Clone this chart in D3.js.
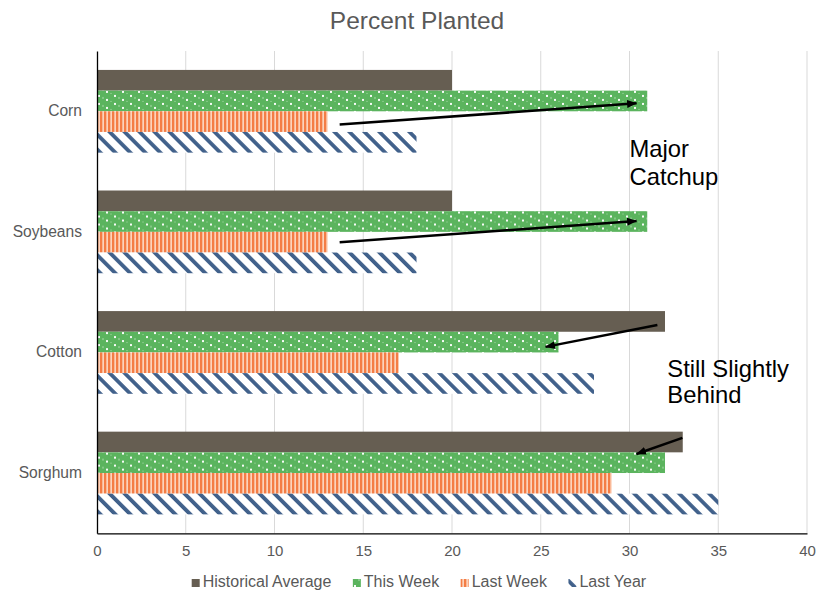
<!DOCTYPE html>
<html>
<head>
<meta charset="utf-8">
<script src="https://cdn.jsdelivr.net/npm/d3@7"></script>
<style>
  html, body { margin: 0; padding: 0; background: #fff; }
  svg { display: block; font-family: "Liberation Sans", Arial, sans-serif; }
</style>
</head>
<body>
<svg id="chart" width="819" height="593"></svg>
<script>
// ---- data ----
const title = "Percent Planted";
const categories = ["Corn", "Soybeans", "Cotton", "Sorghum"];
const seriesNames = ["Historical Average", "This Week", "Last Week", "Last Year"];
const historicalAverage = [20, 20, 32, 33];
const thisWeek = [31, 31, 26, 32];
const lastWeek = [13, 13, 17, 29];
const lastYear = [18, 18, 28, 35];
const xTicks = [0, 5, 10, 15, 20, 25, 30, 35, 40];

// annotation arrows in data units: x = percent, y = category row position (0..4)
const arrowX1 = [13.67, 13.67, 31.57, 32.98];
const arrowY1 = [0.61, 1.586, 2.272, 3.209];
const arrowX2 = [30.4, 30.4, 25.27, 30.39];
const arrowY2 = [0.434, 1.41, 2.454, 3.342];
const noteLines = [["Major", "Catchup"], ["Still Slightly", "Behind"]];
const noteX = [30.0, 32.13];
const noteY = [[0.879, 1.111], [2.70, 2.92]];

// ---- layout ----
const W = 819, H = 593;
const m = { left: 97, right: 12, top: 51, bottom: 59.7 };
const svg = d3.select("#chart");
const textGrey = "#595959";

const x = d3.scaleLinear().domain([0, 40]).range([m.left, W - m.right]);
const y = d3.scaleBand().domain(categories).range([m.top, H - m.bottom])
  .paddingInner(0.314).paddingOuter(0.157);
const ySub = d3.scaleBand().domain(seriesNames).range([0, y.bandwidth()]);
const yRow = d3.scaleLinear().domain([0, 4]).range([m.top, H - m.bottom]);

const valuesBySeries = [historicalAverage, thisWeek, lastWeek, lastYear];

// ---- patterns ----
const defs = svg.append("defs");
// This Week: green with white dots
const pG = defs.append("pattern").attr("id", "p-this").attr("patternUnits", "userSpaceOnUse")
  .attr("width", 16).attr("height", 8);
pG.append("rect").attr("width", 16).attr("height", 8).attr("fill", "#5BB45E");
pG.append("rect").attr("x", 2).attr("y", 1).attr("width", 2).attr("height", 2).attr("fill", "#fff").attr("opacity", 0.95);
pG.append("rect").attr("x", 10).attr("y", 5).attr("width", 2).attr("height", 2).attr("fill", "#fff").attr("opacity", 0.95);
pG.append("rect").attr("x", 6).attr("y", 3.5).attr("width", 2).attr("height", 1).attr("fill", "#fff").attr("opacity", 0.5);
pG.append("rect").attr("x", 14).attr("y", 7.5).attr("width", 2).attr("height", 1).attr("fill", "#fff").attr("opacity", 0.5);
// Last Week: orange vertical stripes
const pO = defs.append("pattern").attr("id", "p-lastweek").attr("patternUnits", "userSpaceOnUse")
  .attr("width", 4).attr("height", 4);
pO.append("rect").attr("width", 4).attr("height", 4).attr("fill", "#F47D45");
pO.append("rect").attr("x", 2.3).attr("width", 1.7).attr("height", 4).attr("fill", "#FCD3BC");
// Last Year: white with blue diagonal stripes
const pB = defs.append("pattern").attr("id", "p-lastyear").attr("patternUnits", "userSpaceOnUse")
  .attr("width", 10.6).attr("height", 10.6).attr("patternTransform", "rotate(-45)");
pB.append("rect").attr("width", 10.6).attr("height", 10.6).attr("fill", "#fff");
pB.append("rect").attr("x", 0).attr("width", 3.8).attr("height", 10.6).attr("fill", "#41618B");

const fills = ["#665E52", "url(#p-this)", "url(#p-lastweek)", "url(#p-lastyear)"];

// arrow marker
defs.append("marker").attr("id", "arrow").attr("markerUnits", "userSpaceOnUse")
  .attr("viewBox", "0 0 10 8").attr("markerWidth", 10).attr("markerHeight", 8)
  .attr("refX", 9.5).attr("refY", 4).attr("orient", "auto")
  .append("path").attr("d", "M0,0 L10,4 L0,8 Z").attr("fill", "#000");

// ---- title ----
svg.append("text").attr("x", 417).attr("y", 29).attr("text-anchor", "middle")
  .attr("font-size", 24.5).attr("fill", textGrey).text(title);

// ---- gridlines ----
svg.append("g").selectAll("line").data(xTicks.filter(d => d > 0)).join("line")
  .attr("x1", d => x(d)).attr("x2", d => x(d))
  .attr("y1", m.top).attr("y2", H - m.bottom)
  .attr("stroke", "#D9D9D9").attr("stroke-width", 1);

// ---- bars ----
const groups = svg.append("g").selectAll("g").data(categories).join("g")
  .attr("transform", d => `translate(0,${y(d)})`);
groups.each(function(cat, ci) {
  d3.select(this).selectAll("rect").data(seriesNames).join("rect")
    .attr("x", x(0))
    .attr("y", s => ySub(s))
    .attr("width", (s, si) => x(valuesBySeries[si][ci]) - x(0))
    .attr("height", ySub.bandwidth())
    .attr("fill", (s, si) => fills[si]);
});

// ---- axes ----
const xAxis = d3.axisBottom(x).tickValues(xTicks).tickSize(0).tickPadding(12);
const gx = svg.append("g").attr("transform", `translate(0,${H - m.bottom})`).call(xAxis);
gx.select(".domain").attr("stroke", "#000").attr("stroke-width", 1.3);
gx.selectAll("text").attr("font-size", 15).attr("fill", textGrey)
  .attr("font-family", "Liberation Sans, Arial, sans-serif");

const yAxis = d3.axisLeft(y).tickSize(0).tickPadding(15);
const gy = svg.append("g").attr("transform", `translate(${m.left},0)`).call(yAxis);
gy.select(".domain").attr("stroke", "#000").attr("stroke-width", 1.3);
gy.selectAll("text").attr("font-size", 15.6).attr("fill", textGrey)
  .attr("font-family", "Liberation Sans, Arial, sans-serif");

// ---- annotations ----
const ann = svg.append("g");
ann.selectAll("line").data(arrowX1).join("line")
  .attr("x1", (d, i) => x(arrowX1[i])).attr("y1", (d, i) => yRow(arrowY1[i]))
  .attr("x2", (d, i) => x(arrowX2[i])).attr("y2", (d, i) => yRow(arrowY2[i]))
  .attr("stroke", "#000").attr("stroke-width", 2.5)
  .attr("marker-end", "url(#arrow)");

noteLines.forEach((lines, ni) => {
  lines.forEach((t, li) => {
    ann.append("text").attr("x", x(noteX[ni])).attr("y", yRow(noteY[ni][li]))
      .attr("font-size", 23.8).attr("fill", "#000").text(t);
  });
});

// ---- legend ----
const legend = svg.append("g");
let lx = 191.7;
const ly = 587;
seriesNames.forEach((s, si) => {
  legend.append("rect").attr("x", lx).attr("y", ly - 8).attr("width", 8).attr("height", 8)
    .attr("fill", fills[si]);
  const t = legend.append("text").attr("x", lx + 11).attr("y", ly)
    .attr("font-size", 16).attr("fill", textGrey).text(s);
  lx += 11 + t.node().getComputedTextLength() + 21.5;
});
</script>
</body>
</html>
